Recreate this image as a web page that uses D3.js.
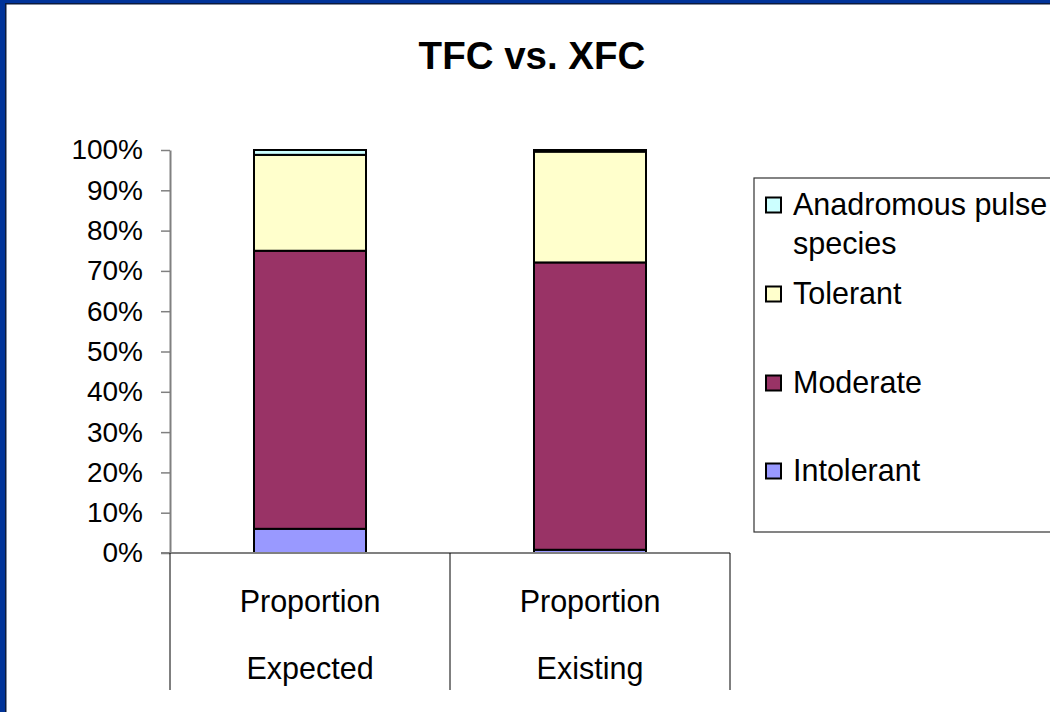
<!DOCTYPE html>
<html>
<head>
<meta charset="utf-8">
<script src="https://cdn.jsdelivr.net/npm/d3@7"></script>
<style>
  html, body { margin: 0; padding: 0; background: #fff; }
  svg { display: block; font-family: "Liberation Sans", Arial, sans-serif; }
</style>
</head>
<body>
<svg id="chart" width="1050" height="712"></svg>
<script>
// chart values (fractions of 1)
const groupLabel = "Proportion"
const categories = ["Expected", "Existing"]
const seriesNames = ["Intolerant", "Moderate", "Tolerant", "Anadromous pulse species"]
const intolerant = [0.060, 0.008]
const moderate = [0.690, 0.713]
const tolerant = [0.238, 0.275]
const anadromous = [0.012, 0.004]
const yTicks = [0, 0.1, 0.2, 0.3, 0.4, 0.5, 0.6, 0.7, 0.8, 0.9, 1]

const colors = ["#9999ff", "#993366", "#ffffcc", "#ccffff"]
const title = "TFC vs. XFC"

const svg = d3.select("#chart")
const W = 1050, H = 712

// slide frame
svg.append("rect").attr("x", 0).attr("y", 0).attr("width", W).attr("height", H).attr("fill", "#fff")
svg.append("rect").attr("x", 0).attr("y", 0).attr("width", 5).attr("height", H).attr("fill", "#003399")
svg.append("rect").attr("x", 0).attr("y", 0).attr("width", W).attr("height", 3).attr("fill", "#003399")
svg.append("rect").attr("x", 5).attr("y", 3).attr("width", 1.5).attr("height", H).attr("fill", "#0b1a3d")
svg.append("rect").attr("x", 5).attr("y", 3).attr("width", W).attr("height", 1.5).attr("fill", "#0b1a3d")

svg.append("text")
    .attr("x", 532)
    .attr("y", 69)
    .attr("text-anchor", "middle")
    .style("font-size", "38.5px")
    .style("font-weight", "bold")
    .text(title)

const rows = categories.map(function(c, i) {
    return {
        cat: c,
        "Intolerant": intolerant[i],
        "Moderate": moderate[i],
        "Tolerant": tolerant[i],
        "Anadromous pulse species": anadromous[i]
    }
})

const x = d3.scaleBand().domain(categories).range([170, 730]).paddingInner(0.6).paddingOuter(0.3)
const y = d3.scaleLinear().domain([0, 1]).range([553, 150])
const z = d3.scaleOrdinal().domain(seriesNames).range(colors)

const stack = d3.stack().keys(seriesNames)(rows)

// bars
const layer = svg.append("g").selectAll("g")
    .data(stack)
    .enter().append("g")
    .attr("fill", function(d) { return z(d.key) })

layer.selectAll("rect")
    .data(function(d) { return d })
    .enter().append("rect")
    .attr("x", function(d) { return x(d.data.cat) })
    .attr("y", function(d) { return y(d[1]) })
    .attr("width", x.bandwidth())
    .attr("height", function(d) { return y(d[0]) - y(d[1]) })
    .attr("stroke", "#000")
    .attr("stroke-width", 2)

// y axis
const yAxis = svg.append("g")
    .attr("transform", "translate(170,0)")
    .call(d3.axisLeft(y).tickValues(yTicks).tickFormat(d3.format(".0%")).tickSize(9).tickSizeOuter(0).tickPadding(18))
yAxis.select(".domain").attr("stroke", "#808080").attr("stroke-width", 2)
yAxis.selectAll(".tick line").attr("stroke", "#808080").attr("stroke-width", 1.5)
yAxis.selectAll(".tick text")
    .attr("fill", "#000")
    .style("font-size", "28px")
    .style("font-family", "'Liberation Sans', Arial, sans-serif")

// x axis with two-level labels
svg.append("line")
    .attr("x1", 161).attr("x2", x.range()[1])
    .attr("y1", y(0)).attr("y2", y(0))
    .attr("stroke", "#808080").attr("stroke-width", 2)

const bounds = [x.range()[0]].concat(categories.map(function(c) { return x(c) - x.step() * x.paddingInner() / 2 + x.step() }))
svg.append("g").selectAll("line")
    .data(bounds)
    .enter().append("line")
    .attr("x1", function(d) { return d }).attr("x2", function(d) { return d })
    .attr("y1", y(0)).attr("y2", 690)
    .attr("stroke", "#000").attr("stroke-width", 1)

const catLabels = svg.append("g").selectAll("g")
    .data(categories)
    .enter().append("g")
    .attr("transform", function(d) { return "translate(" + (x(d) + x.bandwidth() / 2) + ",0)" })
catLabels.append("text")
    .attr("y", 612)
    .attr("text-anchor", "middle")
    .style("font-size", "30.5px")
    .text(groupLabel)
catLabels.append("text")
    .attr("y", 679)
    .attr("text-anchor", "middle")
    .style("font-size", "30.5px")
    .text(function(d) { return d })

// legend
svg.append("rect")
    .attr("x", 754).attr("y", 178)
    .attr("width", 320).attr("height", 354)
    .attr("fill", "#fff").attr("stroke", "#333").attr("stroke-width", 1.2)

const legendItems = [
    {key: "Anadromous pulse species", lines: ["Anadromous pulse", "species"], cy: 205},
    {key: "Tolerant", lines: ["Tolerant"], cy: 294},
    {key: "Moderate", lines: ["Moderate"], cy: 383},
    {key: "Intolerant", lines: ["Intolerant"], cy: 471}
]
const legend = svg.append("g").selectAll("g")
    .data(legendItems)
    .enter().append("g")
legend.append("rect")
    .attr("x", 766).attr("y", function(d) { return d.cy - 7.5 })
    .attr("width", 15).attr("height", 15)
    .attr("fill", function(d) { return z(d.key) })
    .attr("stroke", "#000").attr("stroke-width", 2)
legend.each(function(d) {
    const t = d3.select(this).append("text").style("font-size", "30.5px")
    d.lines.forEach(function(s, i) {
        t.append("tspan").attr("x", 793).attr("y", d.cy + 10 + i * 39).text(s)
    })
})
</script>
</body>
</html>
